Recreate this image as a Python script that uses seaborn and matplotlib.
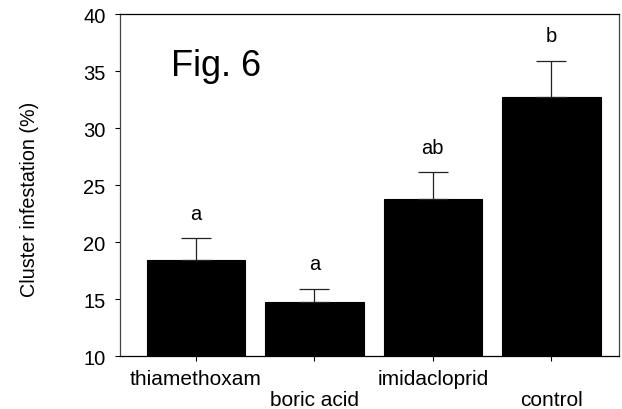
import matplotlib
matplotlib.use("Agg")
import matplotlib.pyplot as plt
import seaborn as sns
import numpy as np

categories = ["thiamethoxam", "boric acid", "imidacloprid", "control"]
means = [18.4, 14.75, 23.8, 32.75]
sems = [1.95, 1.15, 2.33, 3.15]
letters = ["a", "a", "ab", "b"]
yticks = [10, 15, 20, 25, 30, 35, 40]

sns.set_theme(style="white")
plt.rcParams["font.family"] = ["Liberation Sans", "DejaVu Sans"]

fig = plt.figure(figsize=(6.22, 4.10), dpi=100)
ax = fig.add_axes([0.193, 0.129, 0.802, 0.834])

sns.barplot(x=categories, y=means, color="black", saturation=1, width=0.83,
            edgecolor="black", linewidth=0.8, errorbar=None, ax=ax)

xpos = np.arange(len(categories))
ax.errorbar(xpos, means, yerr=[np.zeros(len(sems)), sems], fmt="none",
            ecolor="#222222", elinewidth=0.9, capsize=10.5, capthick=0.9)

for x, m, s, lab in zip(xpos, means, sems, letters):
    ax.annotate(lab, xy=(x, m + s), xytext=(0, 14), textcoords="offset points",
                ha="center", va="baseline", fontsize=14.5, color="black")

ax.set_ylim(10, 40)
ax.set_xlim(-0.64, 3.57)
ax.set_yticks(yticks)
ax.set_yticklabels([str(t) for t in yticks])

ax.tick_params(axis="both", direction="out", length=3.5, width=0.8,
               color="black", labelcolor="black", left=True, bottom=True)
ax.tick_params(axis="y", labelsize=14.5, pad=7)
ax.tick_params(axis="x", labelsize=15, pad=6)

for i, t in enumerate(ax.xaxis.get_major_ticks()):
    if i % 2 == 1:
        t.set_pad(21)

for name, sp in ax.spines.items():
    sp.set_visible(True)
    sp.set_linewidth(0.9)
    sp.set_color("black" if name in ("top", "bottom") else "#444444")

ax.set_xlabel("")
ax.set_ylabel("Cluster infestation (%)", fontsize=14.2, color="black")
ax.yaxis.set_label_coords(-0.162, 0.46)

ax.text(0.102, 0.822, "Fig. 6", transform=ax.transAxes, fontsize=26,
        ha="left", va="baseline", color="black")

fig.savefig("out.png", dpi=100, facecolor="white")
